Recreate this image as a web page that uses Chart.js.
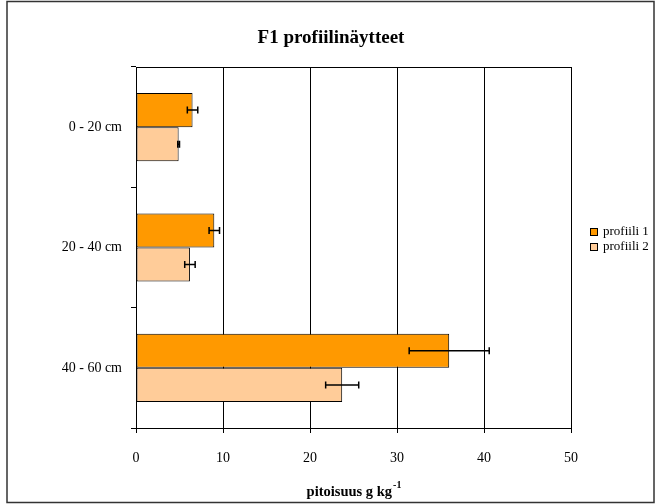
<!DOCTYPE html>
<html>
<head>
<meta charset="utf-8">
<script src="https://cdn.jsdelivr.net/npm/chart.js@4/dist/chart.umd.min.js"></script>
<style>
body{margin:0;background:#fff;}
</style>
</head>
<body>
<canvas id="c" width="659" height="504"></canvas>
<script>
const categories = ['0 - 20 cm', '20 - 40 cm', '40 - 60 cm'];
const profiili1 = [6.5, 9.0, 36.0];
const profiili1Err = [0.6, 0.6, 4.6];
const profiili2 = [4.9, 6.2, 23.7];
const profiili2Err = [0.1, 0.6, 1.9];
const xTicks = [0, 10, 20, 30, 40, 50];

const serif = "'Liberation Serif', 'Times New Roman', serif";

// error bars, frame, title, axis title and legend
const extras = {
  id: 'extras',
  afterDatasetsDraw(chart){
    const ctx = chart.ctx;
    const xs = chart.scales.x;
    const errs = [profiili1Err, profiili2Err];
    ctx.save();
    ctx.strokeStyle = '#000';
    ctx.lineWidth = 1.5;
    chart.data.datasets.forEach((ds, i) => {
      chart.getDatasetMeta(i).data.forEach((bar, j) => {
        const v = ds.data[j], e = errs[i][j];
        const x1 = xs.getPixelForValue(v - e), x2 = xs.getPixelForValue(v + e);
        const y = bar.y;
        ctx.beginPath();
        ctx.moveTo(x1, y); ctx.lineTo(x2, y);
        ctx.moveTo(x1, y - 3.5); ctx.lineTo(x1, y + 3.5);
        ctx.moveTo(x2, y - 3.5); ctx.lineTo(x2, y + 3.5);
        ctx.stroke();
      });
    });
    ctx.restore();
  },
  afterDraw(chart){
    const ctx = chart.ctx;
    const a = chart.chartArea;
    ctx.save();
    // plot frame top line
    ctx.strokeStyle = '#000';
    ctx.lineWidth = 1;
    ctx.beginPath();
    ctx.moveTo(a.left, a.top + 0.5); ctx.lineTo(a.right, a.top + 0.5);
    ctx.stroke();
    // outer border
    ctx.strokeStyle = '#333';
    ctx.lineWidth = 1.5;
    ctx.strokeRect(7, 1.5, 647, 501);
    // title
    ctx.fillStyle = '#000';
    ctx.font = 'bold 19px ' + serif;
    ctx.textAlign = 'center';
    ctx.textBaseline = 'middle';
    ctx.fillText('F1 profiilinäytteet', 331, 38);
    // x axis title with superscript
    const main = 'pitoisuus g kg';
    ctx.font = 'bold 10px ' + serif;
    const supW = ctx.measureText('-1').width;
    ctx.font = 'bold 14.5px ' + serif;
    const mainW = ctx.measureText(main).width;
    const cx = (a.left + a.right) / 2;
    const sx = cx - (mainW + supW) / 2;
    ctx.textAlign = 'left';
    ctx.textBaseline = 'alphabetic';
    ctx.fillText(main, sx, 496);
    ctx.font = 'bold 10px ' + serif;
    ctx.fillText('-1', sx + mainW + 1, 488);
    // legend
    ctx.font = '13px ' + serif;
    ctx.textBaseline = 'middle';
    chart.data.datasets.forEach((ds, i) => {
      const y = 232 + i * 15;
      ctx.fillStyle = ds.backgroundColor;
      ctx.fillRect(590.5, y - 3.5, 7, 7);
      ctx.strokeStyle = '#000';
      ctx.lineWidth = 1;
      ctx.strokeRect(590.5, y - 3.5, 7, 7);
      ctx.fillStyle = '#000';
      ctx.fillText(ds.label, 603, y);
    });
    ctx.restore();
  }
};

new Chart(document.getElementById('c'), {
  type: 'bar',
  data: {
    labels: categories,
    datasets: [
      {label: 'profiili 1', data: profiili1, backgroundColor: '#FF9900', borderColor: '#000', borderWidth: 1, borderSkipped: false},
      {label: 'profiili 2', data: profiili2, backgroundColor: '#FFCC99', borderColor: '#000', borderWidth: 1, borderSkipped: false}
    ]
  },
  options: {
    indexAxis: 'y',
    responsive: false,
    animation: false,
    categoryPercentage: 0.567,
    barPercentage: 1.0,
    layout: {padding: {top: 67, right: 88, bottom: 0, left: 0}},
    plugins: {legend: {display: false}, title: {display: false}, tooltip: {enabled: false}},
    scales: {
      x: {
        min: 0, max: 50,
        afterFit(s){ s.height = 76; },
        afterBuildTicks(s){ s.ticks = xTicks.map(v => ({value: v})); },
        grid: {color: '#000', lineWidth: 1, tickLength: 5, drawTicks: true},
        border: {color: '#000', width: 1},
        ticks: {color: '#000', padding: 17, font: {family: serif, size: 14}}
      },
      y: {
        afterFit(s){ s.width = 136; },
        grid: {offset: true, drawOnChartArea: false, color: '#000', tickLength: 5},
        border: {color: '#000', width: 1},
        ticks: {color: '#000', padding: 9, font: {family: serif, size: 14}}
      }
    }
  },
  plugins: [extras]
});
</script>
</body>
</html>
